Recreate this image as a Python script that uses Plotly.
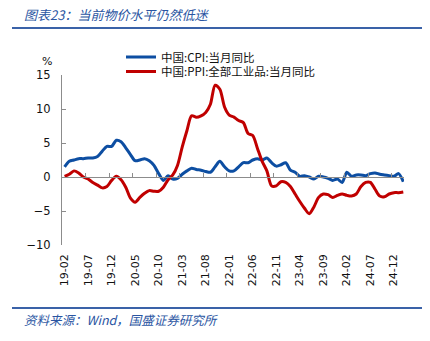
import plotly.graph_objects as go

# Monthly year-on-year readings, 2019-02 .. 2025-02
months = [f"{y % 100:02d}-{m:02d}" for y in range(2019, 2026) for m in range(1, 13)]
months = months[months.index("19-02"):months.index("25-02") + 1]

cpi = [1.5, 2.3, 2.5, 2.7, 2.7, 2.8, 2.8, 3.0, 3.8, 4.5, 4.5,
       5.4, 5.2, 4.3, 3.3, 2.4, 2.5, 2.7, 2.4, 1.7, 0.5, -0.5, 0.2,
       -0.3, -0.2, 0.4, 0.9, 1.3, 1.1, 1.0, 0.8, 0.7, 1.5, 2.3, 1.5,
       0.9, 0.9, 1.5, 2.1, 2.1, 2.5, 2.7, 2.5, 2.8, 2.1, 1.6, 1.8,
       2.1, 1.0, 0.7, 0.1, 0.2, 0.0, -0.3, 0.1, 0.0, -0.2, -0.5, -0.3,
       -0.8, 0.7, 0.1, 0.3, 0.3, 0.2, 0.5, 0.6, 0.4, 0.3, 0.2, 0.1,
       0.5, -0.7]

ppi = [0.1, 0.4, 0.9, 0.6, 0.0, -0.3, -0.8, -1.2, -1.6, -1.4, -0.5,
       0.1, -0.4, -1.5, -3.1, -3.7, -3.0, -2.4, -2.0, -2.1, -2.1, -1.5, -0.4,
       0.3, 1.7, 4.4, 6.8, 9.0, 8.8, 9.0, 9.5, 10.7, 13.5, 12.9, 10.3,
       9.1, 8.8, 8.3, 8.0, 6.4, 6.1, 4.2, 2.3, 0.9, -1.3, -1.3, -0.7,
       -0.8, -1.4, -2.5, -3.6, -4.6, -5.4, -4.4, -3.0, -2.5, -2.6, -3.0, -2.7,
       -2.5, -2.7, -2.8, -2.5, -1.4, -0.8, -0.8, -1.8, -2.8, -2.9, -2.5, -2.3,
       -2.3, -2.2]

tick_labels = ["19-02", "19-07", "19-12", "20-05", "20-10", "21-03", "21-08",
               "22-01", "22-06", "22-11", "23-04", "23-09", "24-02", "24-07", "24-12"]

y_ticks = [-10, -5, 0, 5, 10, 15]

W, H = 430, 341
L, R, T, B = 62, 26, 75, 96
PW, PH = W - L - R, H - T - B


def px_x(px):
    return (px - L) / PW


def px_y(py):
    return (H - B - py) / PH


idx = list(range(len(months)))
tick_pos = [months.index(t) for t in tick_labels]
x_range = [-0.55, len(months) - 0.85]

BLUE = "#0D4EA2"
RED = "#C00000"
AXIS = "#8C8C8C"
TEXT_BLUE = "#2A55A2"
CJK = "Noto Sans CJK SC"

fig = go.Figure()
fig.add_trace(go.Scatter(
    x=idx, y=cpi, mode="lines", name="中国:CPI:当月同比",
    line=dict(color=BLUE, width=3, shape="spline", smoothing=0.8),
    customdata=months, hovertemplate="%{customdata}: %{y}%<extra></extra>",
    legend="legend"))
fig.add_trace(go.Scatter(
    x=idx, y=ppi, mode="lines", name="中国:PPI:全部工业品:当月同比",
    line=dict(color=RED, width=3, shape="spline", smoothing=0.8),
    customdata=months, hovertemplate="%{customdata}: %{y}%<extra></extra>",
    legend="legend2"))
# carrier for the category axis drawn along the zero line
fig.add_trace(go.Scatter(x=[idx[0], idx[-1]], y=[None, None], xaxis="x2",
                         showlegend=False, hoverinfo="skip"))

legend_common = dict(
    xanchor="left", yanchor="middle", bgcolor="rgba(0,0,0,0)",
    font=dict(family=CJK, size=11.5, color="#111111"),
    itemwidth=30, tracegroupgap=0)

fig.update_layout(
    width=W, height=H,
    margin=dict(l=L, r=R, t=T, b=B),
    paper_bgcolor="white", plot_bgcolor="white",
    showlegend=True,
    legend=dict(x=px_x(121), y=px_y(57), **legend_common),
    legend2=dict(x=px_x(121), y=px_y(71.5), **legend_common),
    xaxis=dict(range=x_range, tickmode="array", tickvals=tick_pos, ticktext=tick_labels,
               tickangle=-90, showline=False, showgrid=False, zeroline=False,
               ticks="", ticklabelstandoff=6,
               tickfont=dict(family="DejaVu Sans", size=11, color="#111111")),
    xaxis2=dict(range=x_range, overlaying="x", anchor="free", position=10 / 25,
                tickmode="array", tickvals=[p - 0.5 for p in tick_pos[1:]],
                ticks="inside", ticklen=4, tickcolor=AXIS, showticklabels=False,
                showline=True, linecolor=AXIS, linewidth=1, showgrid=False, zeroline=False),
    yaxis=dict(range=[-10, 15], tickmode="array", tickvals=y_ticks,
               showline=True, linecolor=AXIS, linewidth=1, ticks="inside", ticklen=4,
               tickcolor=AXIS, showgrid=False, zeroline=False, ticklabelstandoff=8,
               tickfont=dict(family="DejaVu Sans", size=11.5, color="#111111")),
)

# header and footer rules
fig.add_shape(type="line", xref="paper", yref="paper", x0=px_x(12), x1=px_x(422),
              y0=px_y(28), y1=px_y(28), line=dict(color="#3A62A8", width=2))
fig.add_shape(type="line", xref="paper", yref="paper", x0=px_x(12), x1=px_x(422),
              y0=px_y(308), y1=px_y(308), line=dict(color="#3A62A8", width=2))

fig.add_annotation(text="图表23：当前物价水平仍然低迷", xref="paper", yref="paper",
                   x=px_x(22), y=px_y(15), xanchor="left", yanchor="middle", showarrow=False,
                   font=dict(family=CJK, size=13, color=TEXT_BLUE, style="italic"))
fig.add_annotation(text="资料来源：Wind，国盛证券研究所", xref="paper", yref="paper",
                   x=px_x(22), y=px_y(319), xanchor="left", yanchor="middle", showarrow=False,
                   font=dict(family=CJK, size=12.5, color=TEXT_BLUE, style="italic"))
fig.add_annotation(text="%", xref="paper", yref="paper",
                   x=px_x(47), y=px_y(61), xanchor="center", yanchor="middle", showarrow=False,
                   font=dict(family="DejaVu Sans", size=11, color="#111111"))

fig.write_html("out.html")
